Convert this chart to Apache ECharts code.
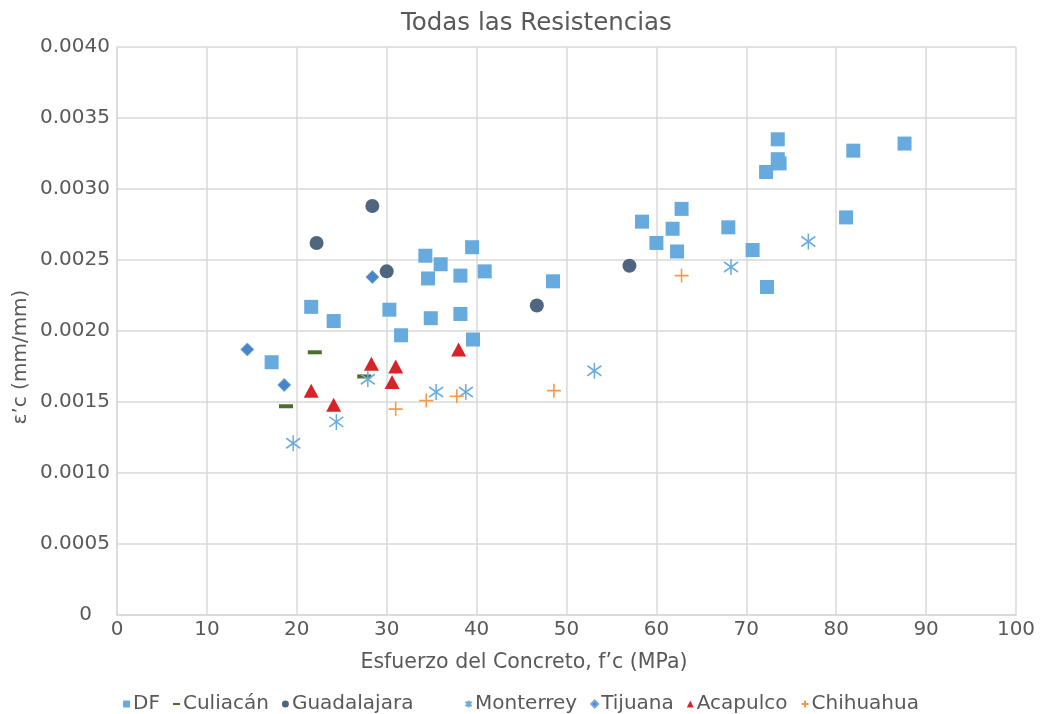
<!DOCTYPE html>
<html>
<head>
<meta charset="utf-8">
<title>Todas las Resistencias</title>
<script src="https://cdn.jsdelivr.net/npm/echarts@6/dist/echarts.min.js"></script>
<style>
  html, body { margin: 0; padding: 0; background: #fff; }
  #chart { width: 1042px; height: 714px; }
</style>
</head>
<body>
<div id="chart"></div>
<script>
// [f'c (MPa), ε'c (mm/mm)]
const dfData = [
  [17.2, 0.00178], [21.6, 0.00217], [24.1, 0.00207], [30.3, 0.00215], [31.6, 0.00197],
  [34.3, 0.00253], [34.6, 0.00237], [34.9, 0.00209], [36.0, 0.00247], [38.2, 0.00239],
  [38.2, 0.00212], [39.5, 0.00259], [39.6, 0.00194], [40.9, 0.00242], [48.5, 0.00235],
  [58.4, 0.00277], [60.0, 0.00262], [61.8, 0.00272], [62.8, 0.00286], [62.3, 0.00256],
  [68.0, 0.00273], [70.7, 0.00257], [72.3, 0.00231], [72.2, 0.00312], [73.5, 0.00335],
  [73.5, 0.00321], [73.7, 0.00318], [81.9, 0.00327], [81.1, 0.00280], [87.6, 0.00332]
];
const culiacanData = [[18.8, 0.00147], [22.0, 0.00185], [27.5, 0.00168]];
const guadalajaraData = [[22.2, 0.00262], [28.4, 0.00288], [30.0, 0.00242], [46.7, 0.00218], [57.0, 0.00246]];
const monterreyData = [
  [19.6, 0.00121], [24.4, 0.00136], [27.9, 0.00166], [35.5, 0.00157],
  [38.8, 0.00157], [53.1, 0.00172], [68.3, 0.00245], [76.9, 0.00263]
];
const tijuanaData = [[14.5, 0.00187], [18.6, 0.00162], [28.4, 0.00238]];
const acapulcoData = [
  [21.6, 0.00158], [24.1, 0.00148], [28.3, 0.00177],
  [31.0, 0.00175], [30.6, 0.00164], [38.0, 0.00187]
];
const chihuahuaData = [[31.0, 0.00145], [34.4, 0.00151], [37.8, 0.00154], [48.6, 0.00158], [62.8, 0.00239]];

const font = '"DejaVu Sans", sans-serif';
const textColor = '#595959';
const gridColor = '#d9d9d9';

const chart = echarts.init(document.getElementById('chart'));

const option = {
  animation: false,
  backgroundColor: '#fff',
  textStyle: { fontFamily: font, color: textColor },
  title: {
    text: 'Todas las Resistencias',
    left: 396,
    top: 6,
    textStyle: { fontFamily: font, fontSize: 24.5, fontWeight: 'normal', color: textColor }
  },
  grid: { left: 117, right: 26, top: 47, bottom: 99, containLabel: false },
  legend: {
    top: 689,
    left: 'center',
    itemWidth: 7,
    itemHeight: 7,
    itemGap: 13,
    textStyle: { fontFamily: font, fontSize: 20, color: textColor, padding: [0, 0, 0, -2] },
    data: [
      'DF',
      { name: 'Culiacán', icon: 'path://M0,0h10v3h-10z' },
      'Guadalajara', 'Monterrey', 'Tijuana', 'Acapulco', 'Chihuahua'
    ],
    // Excel deja un hueco después de Guadalajara
    formatter: name => name === 'Guadalajara' ? name + '      ' : name
  },
  xAxis: {
    type: 'value',
    min: 0,
    max: 100,
    interval: 10,
    axisLine: { show: true, lineStyle: { color: gridColor, width: 1.5 } },
    axisTick: { show: false },
    axisLabel: { fontFamily: font, fontSize: 20, color: textColor, margin: 5 },
    splitLine: { show: true, lineStyle: { color: gridColor, width: 1.5 } }
  },
  yAxis: {
    type: 'value',
    min: 0,
    max: 0.004,
    interval: 0.0005,
    axisLine: { show: true, lineStyle: { color: gridColor, width: 1.5 } },
    axisTick: { show: false },
    axisLabel: {
      fontFamily: font, fontSize: 20, color: textColor, margin: 7,
      formatter: v => v === 0 ? '{z|0}' : v.toFixed(4),
      rich: { z: { fontFamily: font, fontSize: 20, color: textColor, padding: [0, 18, 0, 0] } }
    },
    splitLine: { show: true, lineStyle: { color: gridColor, width: 1.5 } }
  },
  graphic: [
    {
      type: 'text',
      x: 524, y: 663,
      style: {
        text: 'Esfuerzo del Concreto, f\u2019c (MPa)',
        fontFamily: font, fontSize: 20.5, fill: textColor,
        align: 'center', verticalAlign: 'middle'
      }
    },
    {
      type: 'text',
      x: 21, y: 357,
      rotation: Math.PI / 2,
      style: {
        text: '\u03b5\u2019c (mm/mm)',
        fontFamily: font, fontSize: 20, fill: textColor,
        align: 'center', verticalAlign: 'middle'
      }
    }
  ],
  series: [
    {
      name: 'DF', type: 'scatter', data: dfData,
      symbol: 'rect', symbolSize: 14,
      itemStyle: { color: '#67aadd', opacity: 1 }
    },
    {
      name: 'Culiacán', type: 'scatter', data: culiacanData,
      symbol: 'rect', symbolSize: [14, 4],
      itemStyle: { color: '#4b6d2e', opacity: 1 }
    },
    {
      name: 'Guadalajara', type: 'scatter', data: guadalajaraData,
      symbol: 'circle', symbolSize: 14,
      itemStyle: { color: '#50667f', opacity: 1 }
    },
    {
      name: 'Monterrey', type: 'scatter', data: monterreyData,
      symbol: 'path://M7,0L7,16M0,3L14,13M0,13L14,3', symbolSize: [14, 16],
      itemStyle: { color: 'transparent', borderColor: '#69abdf', borderWidth: 1.6, opacity: 1 }
    },
    {
      name: 'Tijuana', type: 'scatter', data: tijuanaData,
      symbol: 'diamond', symbolSize: 13,
      itemStyle: { color: '#4a85c8', borderColor: '#7aa9dc', borderWidth: 1, opacity: 1 }
    },
    {
      name: 'Acapulco', type: 'scatter', data: acapulcoData,
      symbol: 'triangle', symbolSize: [15, 14],
      itemStyle: { color: '#d62428', opacity: 1 }
    },
    {
      name: 'Chihuahua', type: 'scatter', data: chihuahuaData,
      symbol: 'path://M7,0L7,14M0,7L14,7', symbolSize: 14,
      itemStyle: { color: 'transparent', borderColor: '#f39a4e', borderWidth: 1.6, opacity: 1 }
    }
  ]
};

chart.setOption(option);
window.addEventListener('resize', () => chart.resize());
</script>
</body>
</html>
